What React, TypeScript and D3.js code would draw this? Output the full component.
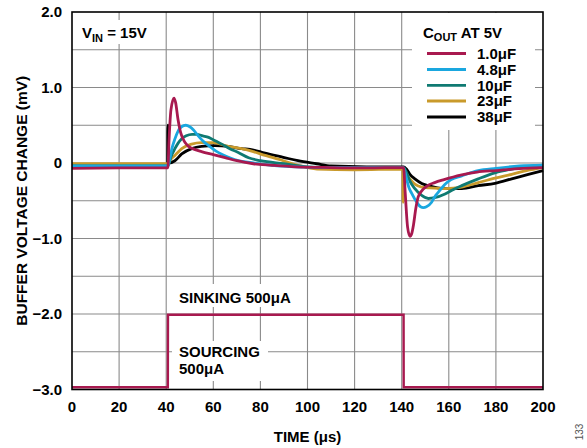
import React from "react";
import * as d3 from "d3";

type P = [number, number];

const xTicks = [0, 20, 40, 60, 80, 100, 120, 140, 160, 180, 200];
const yTicks = [2, 1, 0, -1, -2, -3];
const yTickLabels = ["2.0", "1.0", "0", "\u22121.0", "\u22122.0", "\u22123.0"];
const yGrid = [1.5, 1, 0.5, 0, -0.5, -1, -1.5, -2, -2.5];

const seriesNames = ["1.0\u03bcF", "4.8\u03bcF", "10\u03bcF", "23\u03bcF", "38\u03bcF"];
const seriesColors = ["#A8194F", "#1AA7DF", "#0F7A72", "#C99A2B", "#000000"];

const c1_0: P[] = [
  [0, -0.07], [20, -0.065], [40.7, -0.065], [41.2, 0.3], [42, 0.7], [43.3, 0.86], [44, 0.8],
  [45, 0.58], [46, 0.42], [47, 0.33], [48, 0.27], [49.5, 0.22], [52, 0.18], [55, 0.15],
  [60, 0.11], [65, 0.07], [70, 0.03], [77, -0.01], [85, -0.03], [95, -0.05], [110, -0.06],
  [125, -0.065], [140.8, -0.06], [141.5, -0.4], [142.5, -0.85], [143.5, -0.97], [144.3, -0.93],
  [145, -0.82], [146, -0.6], [147, -0.45], [148.5, -0.37], [151, -0.3], [154, -0.26],
  [158, -0.22], [165, -0.16], [172, -0.12], [180, -0.1], [190, -0.075], [200, -0.06],
];
const c4_8: P[] = [
  [0, -0.04], [40.7, -0.04], [41.5, 0.05], [42.5, 0.2], [43.7, 0.32], [45, 0.42], [46.5, 0.48],
  [48.3, 0.5], [50, 0.48], [51.5, 0.44], [53.6, 0.36], [56, 0.28], [58, 0.23], [61, 0.16],
  [64, 0.11], [67, 0.07], [71, 0.03], [77, 0.0], [85, -0.03], [95, -0.05], [110, -0.06],
  [140.8, -0.06], [142, -0.2], [143, -0.32], [144.2, -0.4], [146.4, -0.52], [148, -0.58],
  [149.2, -0.59], [150.5, -0.58], [152.7, -0.52], [154, -0.45], [155.5, -0.39], [158.4, -0.28],
  [161, -0.22], [165.5, -0.17], [172.5, -0.1], [180, -0.07], [190, -0.04], [200, -0.03],
];
const c10: P[] = [
  [0, -0.04], [40.7, -0.04], [42, 0.08], [43.7, 0.19], [45, 0.26], [46.6, 0.32], [48.5, 0.36],
  [51, 0.38], [53, 0.38], [55.5, 0.36], [58, 0.34], [61, 0.29], [63.6, 0.25], [67, 0.19],
  [70.6, 0.14], [75, 0.07], [80, 0.03], [90, -0.01], [100, -0.05], [110, -0.06], [140.8, -0.06],
  [142, -0.12], [143.5, -0.24], [145.6, -0.34], [148.5, -0.43], [151.3, -0.47], [154, -0.46],
  [158.4, -0.41], [162, -0.35], [165.5, -0.3], [172.5, -0.21], [179.6, -0.13], [186.7, -0.08],
  [193, -0.05], [200, -0.03],
];
const c23: P[] = [
  [0, -0.01], [40.7, -0.01], [42, 0.05], [43.7, 0.1], [46.6, 0.19], [50.8, 0.25], [55, 0.27],
  [60, 0.27], [66.4, 0.22], [72, 0.19], [77, 0.15], [82, 0.1], [89.7, 0.03], [96, -0.03],
  [104, -0.08], [120, -0.09], [140.5, -0.08], [140.6, -0.52], [140.9, -0.15], [142.8, -0.19],
  [145.6, -0.28], [148.5, -0.32], [152, -0.33], [158.4, -0.34], [165.5, -0.32], [172.5, -0.26],
  [179.6, -0.2], [186.7, -0.15], [193, -0.1], [200, -0.06],
];
const c38: P[] = [
  [0, -0.06], [20, -0.03], [40.6, -0.03], [40.7, 0.5], [40.8, 0.5], [41.0, 0.0], [43.7, 0.03],
  [46.6, 0.12], [50.8, 0.19], [55, 0.22], [60.7, 0.23], [66.4, 0.22], [72, 0.19], [75.6, 0.18],
  [82, 0.13], [89.7, 0.075], [96, 0.03], [103.9, -0.01], [110, -0.04], [125, -0.05],
  [140.8, -0.05], [142, -0.08], [143.5, -0.15], [145.6, -0.21], [148.5, -0.27], [151.3, -0.3],
  [158.4, -0.34], [165.5, -0.34], [172.5, -0.3], [179.6, -0.27], [186.7, -0.21], [193.8, -0.15],
  [200, -0.1],
];
const loadCurrent: P[] = [
  [0, -2.97], [40.7, -2.97], [40.75, -2.01], [140.8, -2.01], [140.85, -2.97], [200, -2.97],
];

const seriesData = [c1_0, c4_8, c10, c23, c38];

const W = 587, H = 448;
const L = 72, R = 543, T = 12, B = 389.5;
const FONT = "'Liberation Sans', Arial, sans-serif";

export default function App() {
  const x = d3.scaleLinear().domain([0, 200]).range([L, R]);
  const y = d3.scaleLinear().domain([-3, 2]).range([B, T]);
  const line = d3.line<P>().x((d) => x(d[0])).y((d) => y(d[1])).curve(d3.curveMonotoneX);
  const step = d3.line<P>().x((d) => x(d[0])).y((d) => y(d[1]));

  const legendY = [53.5, 69.5, 85.3, 101, 117];

  return (
    <svg width={W} height={H} style={{ position: "absolute", left: 0, top: 0, background: "#fff" }}
      fontFamily={FONT}>
      <rect x={0} y={0} width={W} height={H} fill="#fff" />
      {xTicks.slice(1, -1).map((t) => (
        <line key={"gx" + t} x1={x(t)} x2={x(t)} y1={T} y2={B} stroke="#8a8a8a" strokeWidth={1.1} />
      ))}
      {yGrid.map((v) => (
        <line key={"gy" + v} x1={L} x2={R} y1={y(v)} y2={y(v)} stroke="#8a8a8a" strokeWidth={1.1} />
      ))}
      <rect x={76} y={20} width={74} height={24} fill="#fff" />
      <rect x={412} y={13} width={123} height={117} fill="#fff" />
      <rect x={175} y={284} width={125} height={23} fill="#fff" />
      <rect x={172} y={341} width={96} height={40} fill="#fff" />

      <path d={step(loadCurrent) || ""} fill="none" stroke={seriesColors[0]} strokeWidth={2.4} />

      {seriesData.map((_, i) => seriesData.length - 1 - i).map((i) => (
        <path key={"s" + i} d={line(seriesData[i]) || ""} fill="none" stroke={seriesColors[i]}
          strokeWidth={2.8} strokeLinejoin="round" />
      ))}

      <rect x={L} y={T} width={R - L} height={B - T} fill="none" stroke="#000" strokeWidth={1.6} />

      {yTicks.map((v, i) => (
        <text key={"yt" + v} x={62} y={y(v)} dy="0.36em" textAnchor="end" fontSize={15}
          fontWeight="bold">{yTickLabels[i]}</text>
      ))}
      {xTicks.map((t) => (
        <text key={"xt" + t} x={x(t)} y={412} textAnchor="middle" fontSize={15} fontWeight="bold">{t}</text>
      ))}
      <text x={(L + R) / 2} y={442} textAnchor="middle" fontSize={15} fontWeight="bold">{"TIME (\u03bcs)"}</text>
      <text transform={`translate(21,${(T + B) / 2}) rotate(-90)`} dy="0.36em" textAnchor="middle"
        fontSize={15.5} fontWeight="bold">BUFFER VOLTAGE CHANGE (mV)</text>

      <text x={82} y={37.5} fontSize={15} fontWeight="bold">
        V<tspan fontSize={11} dy={4}>IN</tspan><tspan dy={-4}> = 15V</tspan>
      </text>

      <text x={423} y={38} fontSize={15} fontWeight="bold">
        C<tspan fontSize={11} dy={3}>OUT</tspan><tspan dy={-3}> AT 5V</tspan>
      </text>
      {seriesNames.map((n, i) => (
        <g key={"lg" + i}>
          <line x1={427} x2={466} y1={legendY[i]} y2={legendY[i]} stroke={seriesColors[i]} strokeWidth={2.8} />
          <text x={477} y={legendY[i]} dy="0.36em" fontSize={15} fontWeight="bold">{n}</text>
        </g>
      ))}

      <text x={179} y={302.5} fontSize={15} fontWeight="bold">{"SINKING 500\u03bcA"}</text>
      <text x={179} y={356.5} fontSize={15} fontWeight="bold">SOURCING</text>
      <text x={179} y={374} fontSize={15} fontWeight="bold">{"500\u03bcA"}</text>

      <text transform="translate(583,432) rotate(-90)" textAnchor="middle" fontSize={10} fill="#555">133</text>
    </svg>
  );
}
